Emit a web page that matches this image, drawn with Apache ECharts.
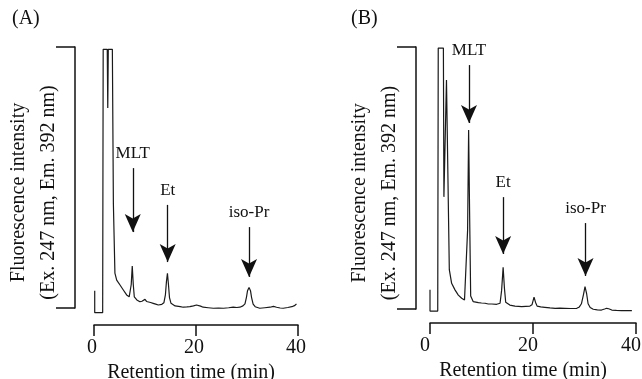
<!DOCTYPE html>
<html>
<head>
<meta charset="utf-8">
<script src="https://cdn.jsdelivr.net/npm/echarts@6/dist/echarts.min.js"></script>
<style>
  html, body { margin: 0; padding: 0; background: #fff; }
  #chart { width: 642px; height: 379px; }
</style>
</head>
<body>
<div id="chart"></div>
<script>
// ---- Data ----
const panelTitles = ['(A)', '(B)'];
const xTitle = 'Retention time (min)';
const yTitle = 'Fluorescence intensity\n(Ex. 247 nm, Em. 392 nm)';
const xTicks = [0, 20, 40];

// Panel A chromatogram: retention time (min) and relative intensity (bracket = 0..100)
const timeA = [0.14, 0.14, 1.7, 1.8, 2.6, 2.7, 2.8, 3.6, 3.8, 4.1, 4.45, 5.1, 5.75, 6.4, 6.9, 7.1, 7.3, 7.5, 7.7, 7.9,
  8.4, 9.0, 9.4, 9.7, 10.0, 10.3, 10.6, 11.1, 11.6, 12.1, 12.6, 13.3, 13.7, 14.0, 14.2, 14.4, 14.6, 14.8, 15.1, 15.9,
  16.9, 17.5, 18.2, 18.8, 19.5, 20.1, 20.45, 20.9, 21.4, 22.4, 23.4, 24.4, 25.4, 26.4, 27.3, 28.0, 28.6, 29.2, 29.6, 29.9,
  30.1, 30.4, 30.7, 30.9, 31.2, 31.6, 32.5, 33.5, 34.5, 35.2, 35.8, 36.5, 37.1, 38.0, 38.8, 39.3, 39.7];
const signalA = [6.6, -1.8, -1.8, 99.1, 99.1, 76.6, 99.1, 99.1, 40, 13.4, 10.7, 8.8, 6.9, 5.0, 4.3, 4.4, 9, 16.1, 9, 4.3,
  3.1, 2.4, 2.6, 3.1, 3.3, 2.5, 2.0, 2.1, 1.8, 1.5, 1.15, 1.4, 2.0, 5, 10, 13.3, 9, 4, 1.8, 0.8,
  0.5, 0.3, 0.4, 0.5, 0.8, 1.15, 1.4, 0.7, 0.3, 0.1, -0.1, 0.0, -0.1, 0.1, 0.3, 0.2, 0.3, 0.8, 1.6, 4.2,
  6.6, 7.9, 6.5, 4, 1.5, 0.5, -0.1, 0.1, 0.3, 0.6, 0.3, 0.0, -0.1, 0.2, 0.5, 0.9, 1.5];

// Panel B chromatogram
const timeB = [0.0, 0.0, 1.5, 1.6, 2.6, 2.7, 3.2, 3.75, 4.2, 4.85, 5.5, 6.15, 6.7, 7.05, 7.3, 7.5, 7.7, 7.9, 8.4, 9.4,
  10.0, 10.7, 11.3, 12.0, 12.95, 13.6, 13.9, 14.2, 14.45, 14.7, 15.5, 16.5, 17.2, 17.8, 18.6, 19.4, 19.8, 20.2, 20.5, 20.8,
  21.5, 22.3, 23.3, 24.3, 25.2, 26.2, 27.3, 28.5, 29.0, 29.4, 29.8, 30.1, 30.4, 30.7, 31.1, 31.7, 32.5, 33.3, 33.9, 34.3,
  34.7, 35.3, 36.2, 37.2, 38.2, 39.2];
const signalB = [7.3, -0.8, -0.8, 99.6, 99.6, 42.8, 87.4, 15, 9.8, 7.3, 5.3, 4.1, 3.4, 3.4, 30, 68.3, 35, 5, 2.8, 2.4,
  2.3, 2.2, 1.9, 1.9, 1.8, 2.2, 7, 15.9, 8, 2.6, 1.5, 1.1, 1.0, 0.9, 1.0, 1.1, 1.6, 4.5, 2.5, 1.1,
  0.8, 0.65, 0.4, 0.27, 0.3, 0.27, 0.2, 0.27, 0.8, 2.0, 5.5, 8.5, 6, 2.0, 0.6, -0.1, -0.3, -0.4, 0.0, 0.27,
  0.1, -0.4, -0.5, -0.6, -0.6, -0.6];

// Peak annotations (arrows)
const peakNames = ['MLT', 'Et', 'iso-Pr'];
const arrowTimeA = [7.6, 14.45, 30.4];
const arrowTopA = [53.6, 39.5, 31.0];
const arrowTipA = [29.1, 17.6, 11.9];
const arrowTimeB = [7.57, 14.2, 30.2];
const arrowTopB = [93.1, 42.7, 32.8];
const arrowTipB = [71.0, 21.0, 12.6];

// ---- Chart ----
const FONT = "'Liberation Serif', 'Times New Roman', serif";
const INK = '#111';

function zip(xs, ys) { return xs.map((x, i) => [x, ys[i]]); }
function arrows(times, tops, tips) {
  return peakNames.map((n, i) => [
    { coord: [times[i], tops[i]], name: n },
    { coord: [times[i], tips[i]] }
  ]);
}

const grids = [
  { left: 94, top: 47, width: 204, height: 261, outerBoundsMode: 'none', containLabel: false },
  { left: 430, top: 47, width: 206, height: 262, outerBoundsMode: 'none', containLabel: false }
];
const yOffsets = [19, 14];
const xOffsets = [17, 14];
const xNamePad = [[0, 10, 0, 0], [0, 20, 0, 0]];
const xLabelPad = [[0, 4, 0, 0], [0, 10, 0, 0]];

const option = {
  animation: false,
  backgroundColor: '#fff',
  title: panelTitles.map((t, i) => ({
    text: t, left: i === 0 ? 12 : 351, top: 9, padding: 0,
    textStyle: { fontFamily: FONT, fontSize: 20, fontWeight: 'normal', color: INK }
  })),
  grid: grids,
  xAxis: grids.map((g, i) => ({
    type: 'value', gridIndex: i, min: xTicks[0], max: xTicks[xTicks.length - 1], interval: 20,
    position: 'bottom', offset: xOffsets[i],
    name: xTitle, nameLocation: 'middle', nameGap: 33,
    nameTextStyle: { fontFamily: FONT, fontSize: 20, color: INK, padding: xNamePad[i] },
    axisLine: { show: true, onZero: false, lineStyle: { color: INK, width: 1.5 } },
    axisTick: { show: true, length: 11, lineStyle: { color: INK, width: 1.5 } },
    axisLabel: { fontFamily: FONT, fontSize: 20, color: INK, margin: 13, padding: xLabelPad[i] },
    splitLine: { show: false }
  })),
  yAxis: grids.map((g, i) => ({
    type: 'value', gridIndex: i, min: 0, max: 100, interval: 100,
    position: 'left', offset: yOffsets[i],
    name: yTitle, nameLocation: 'middle', nameGap: 11,
    nameTextStyle: { fontFamily: FONT, fontSize: 20, color: INK, lineHeight: 30, padding: [0, 30, 0, 0] },
    axisLine: { show: true, onZero: false, lineStyle: { color: INK, width: 1.5 } },
    axisTick: { show: true, length: 19, lineStyle: { color: INK, width: 1.5 } },
    axisLabel: { show: false },
    splitLine: { show: false }
  })),
  series: [
    { data: zip(timeA, signalA), times: arrowTimeA, tops: arrowTopA, tips: arrowTipA },
    { data: zip(timeB, signalB), times: arrowTimeB, tops: arrowTopB, tips: arrowTipB }
  ].map((s, i) => ({
    type: 'line', xAxisIndex: i, yAxisIndex: i, data: s.data,
    showSymbol: false, symbol: 'none', clip: false,
    lineStyle: { color: '#1a1a1a', width: 1.2 },
    markLine: {
      silent: true, symbol: ['none', 'arrow'], symbolSize: [12, 18],
      lineStyle: { color: INK, width: 1.3, type: 'solid' },
      label: { show: true, position: 'start', formatter: '{b}', fontFamily: FONT, fontSize: 17, color: INK, distance: 6 },
      emphasis: { disabled: true },
      data: arrows(s.times, s.tops, s.tips)
    }
  }))
};

const chart = echarts.init(document.getElementById('chart'), null, { renderer: 'canvas' });
chart.setOption(option);
</script>
</body>
</html>
